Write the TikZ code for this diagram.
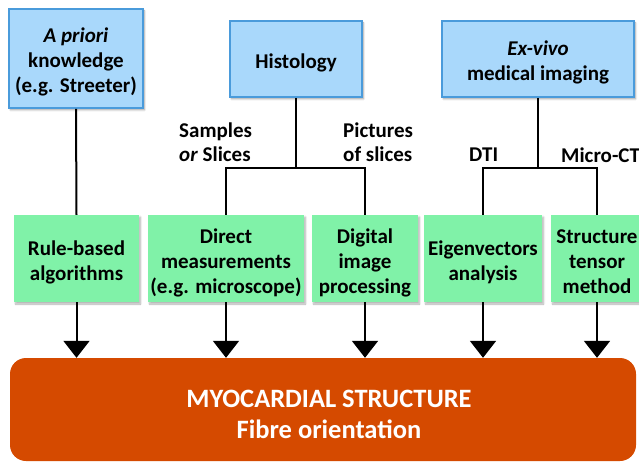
\documentclass[tikz,border=0pt]{standalone}
\usepackage{fontspec}
\setmainfont{Carlito}
\usetikzlibrary{arrows.meta,shadows.blur}
\definecolor{bluefill}{HTML}{A9D8FB}
\definecolor{blueedge}{HTML}{4A9BDB}
\definecolor{greenfill}{HTML}{80F2A8}
\definecolor{orangefill}{HTML}{D54A00}
\newcommand\mytopstrut{\rule{0pt}{25pt}}
\newcommand\mybotstrut{\rule[-6pt]{0pt}{6pt}}
\tikzset{
  boxtext/.style={font=\fontsize{21}{25}\selectfont\bfseries},
  src/.style={draw=blueedge, line width=1.6pt, fill=bluefill, align=center,
    inner sep=0pt, boxtext,
    blur shadow={shadow blur steps=5, shadow xshift=1.5pt, shadow yshift=-2pt, shadow opacity=35}},
  meth/.style={fill=greenfill, align=center, inner sep=0pt, minimum height=87pt,
    boxtext,
    blur shadow={shadow blur steps=5, shadow xshift=1.5pt, shadow yshift=-2pt, shadow opacity=30}},
  lbl/.style={align=left, anchor=west, inner sep=0pt, font=\fontsize{21}{24}\selectfont\bfseries},
  ln/.style={line width=2pt, black},
  arr/.style={line width=2pt, black, -{Triangle[width=26pt,length=17pt]}},
}
\begin{document}
\begin{tikzpicture}[x=1pt,y=-1pt]
\useasboundingbox (0,0) rectangle (639,462);
% sources
\node[src, minimum width=134pt, minimum height=99pt] (b1) at (76,58.5) {\mytopstrut\textit{A priori}\\knowledge\\(e.g. Streeter)\mybotstrut};
\node[src, minimum width=132pt, minimum height=76pt] (b2) at (296,59) {\mytopstrut Histology\mybotstrut};
\node[src, minimum width=192pt, minimum height=76pt] (b3) at (538,59) {\mytopstrut\textit{Ex-vivo}\\medical imaging\mybotstrut};
% methods
\node[meth, minimum width=125pt] (g1) at (76.5,258.5) {\mytopstrut Rule-based\\algorithms\mybotstrut};
\node[meth, minimum width=156pt] (g2) at (226,258.5) {\mytopstrut Direct\\measurements\\(e.g. microscope)\mybotstrut};
\node[meth, minimum width=106pt] (g3) at (365,258.5) {\mytopstrut Digital\\image\\processing\mybotstrut};
\node[meth, minimum width=118pt] (g4) at (483,258.5) {\mytopstrut Eigenvectors\\analysis\mybotstrut};
\node[meth, minimum width=92pt] (g5) at (597,258.5) {\mytopstrut Structure\\tensor\\method\mybotstrut};
% result
\node[fill=orangefill, rounded corners=16pt, minimum width=626pt, minimum height=103pt,
  inner sep=0pt, text=white, align=center,
  font=\fontsize{26.5}{31}\selectfont\bfseries] (res) at (323,409.5)
  {\rule{0pt}{33pt}\hspace*{12pt}MYOCARDIAL STRUCTURE\\\hspace*{12pt}Fibre orientation\rule[-7pt]{0pt}{7pt}};
% junctions
\coordinate (hj) at (296,168);
\coordinate (ej) at (538,168);
% connectors
\draw[ln] (b1.south) -- (g1.north);
\draw[ln] (b2.south) -- (hj);
\draw[ln] (g2.north) |- (hj) -| (g3.north);
\draw[ln] (b3.south) -- (ej);
\draw[ln] (g4.north) |- (ej) -| (g5.north);
% arrows
\foreach \g in {g1,g2,g3,g4,g5}{
  \draw[arr] (\g.south) -- (\g.south |- res.north);
}
% labels
\node[lbl] (l1) at (179,142) {Samples\\\textit{or} Slices};
\node[lbl] (l2) at (343,142) {Pictures\\of slices};
\node[lbl] (l3) at (469,155) {DTI};
\node[lbl] (l4) at (561,155) {Micro-CT};
\end{tikzpicture}
\end{document}
